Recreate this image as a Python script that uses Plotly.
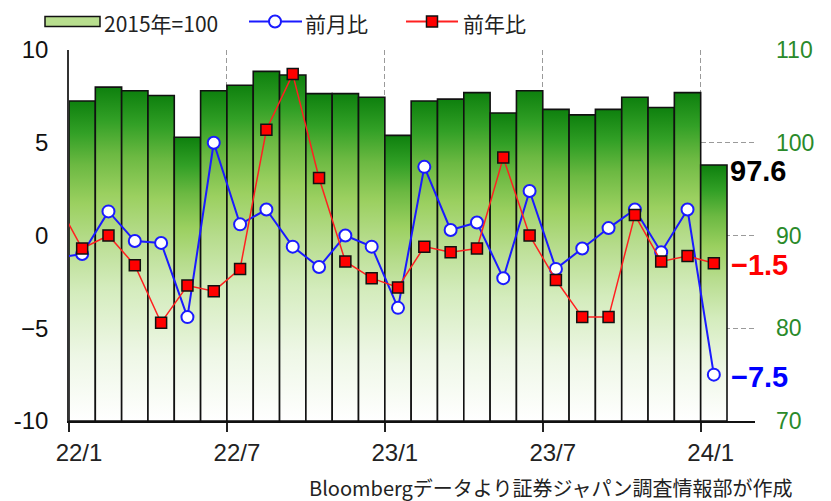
import plotly.graph_objects as go

# ---------------- data ----------------
months = ["21/12", "22/1", "22/2", "22/3", "22/4", "22/5", "22/6", "22/7", "22/8",
          "22/9", "22/10", "22/11", "22/12", "23/1", "23/2", "23/3", "23/4", "23/5",
          "23/6", "23/7", "23/8", "23/9", "23/10", "23/11", "23/12", "24/1"]
index_2015 = [None, 104.5, 106.0, 105.6, 105.1, 100.6, 105.6, 106.2, 107.7, 107.3,
              105.3, 105.3, 104.9, 100.8, 104.5, 104.7, 105.4, 103.2, 105.6, 103.6,
              103.0, 103.6, 104.9, 103.8, 105.4, 97.6]
mom = [-1.2, -1.0, 1.3, -0.3, -0.4, -4.4, 5.0, 0.6, 1.4, -0.6, -1.7, 0.0, -0.6,
       -3.9, 3.7, 0.3, 0.7, -2.3, 2.4, -1.8, -0.7, 0.4, 1.4, -0.9, 1.4, -7.5]
yoy = [1.9, -0.7, 0.0, -1.6, -4.7, -2.7, -3.0, -1.8, 5.7, 8.7, 3.1, -1.4, -2.3,
       -2.8, -0.6, -0.9, -0.7, 4.2, 0.0, -2.4, -4.4, -4.4, 1.1, -1.4, -1.1, -1.5]
tick_labels = ["22/1", "22/7", "23/1", "23/7", "24/1"]
pct_ticks = [-10, -5, 0, 5, 10]
pct_ticktext = ["-10", "\u22125", "0", "5", "10"]
idx_ticks = [70, 80, 90, 100, 110]
source_text = "Bloombergデータより証券ジャパン調査情報部が作成"

# ---------------- style ----------------
IDX_MIN, IDX_MAX = 70, 110
GREEN_SCALE = [[0.0, "#ffffff"], [0.2, "#eef7e6"], [0.4, "#d4ecbd"], [0.56, "#b6dc8c"],
               [0.68, "#9bd060"], [0.8, "#6cb942"], [0.9, "#32a026"], [1.0, "#0e800e"]]
OFF = 8                      # page body margin offset
W, H = 831 - OFF, 501 - OFF  # figure size so that the page fits the window
L, R, T, B = 69 - OFF, 755 - OFF, 50 - OFF, 421 - OFF  # plot area in figure px


def px2x(px):  # screen px -> paper x
    return (px - OFF - L) / (R - L)


def py2y(py):  # screen px -> paper y
    return (B - (py - OFF)) / (B - T)


pos = [k - 0.5 for k in range(len(months))]  # bar centres (21/12 at -0.5)

fig = go.Figure()

# bars as gradient-filled polygons on the index axis
for k, v in enumerate(index_2015):
    if v is None:
        continue
    x0, x1 = pos[k] - 0.5, pos[k] + 0.5
    fig.add_trace(go.Scatter(
        x=[x0, x0, x1, x1, x0], y=[IDX_MIN, v, v, IDX_MIN, IDX_MIN],
        mode="lines", fill="toself",
        fillgradient=dict(type="vertical", start=IDX_MIN, stop=v, colorscale=GREEN_SCALE),
        line=dict(color="#111111", width=1.6),
        yaxis="y", hoverinfo="skip", name="2015年=100"))

fig.add_trace(go.Scatter(
    x=pos, y=mom, mode="lines+markers", yaxis="y2", name="前月比",
    line=dict(color="#1a1aff", width=2),
    marker=dict(symbol="circle", size=12, color="white", line=dict(color="#1a1aff", width=2))))
fig.add_trace(go.Scatter(
    x=pos, y=yoy, mode="lines+markers", yaxis="y2", name="前年比",
    line=dict(color="#ff2020", width=1.5),
    marker=dict(symbol="square", size=11, color="#ff0000", line=dict(color="#111111", width=1.5))))

tickvals = [pos[months.index(t)] - 0.5 for t in tick_labels]
bar_w = (727 - 69) / 25.0
x_max = (R - L) / bar_w

fig.update_layout(
    width=W, height=H, margin=dict(l=L, r=W - R, t=T, b=H - B, autoexpand=False),
    plot_bgcolor="white", paper_bgcolor="white", showlegend=False,
    font=dict(family="Liberation Sans, Arial, sans-serif", color="#222222"),
    xaxis=dict(range=[0, x_max], tickvals=tickvals, ticktext=tick_labels,
               ticks="outside", ticklen=9, tickwidth=1.5, tickcolor="#222222",
               showline=True, linecolor="#111111", linewidth=2,
               showgrid=True, gridcolor="#9a9a9a", gridwidth=1, griddash="5px,3px",
               zeroline=False, tickfont=dict(size=24), ticklabelshift=10),
    yaxis=dict(side="right", range=[IDX_MIN, IDX_MAX], tickvals=idx_ticks,
               showgrid=True, gridcolor="#9a9a9a", gridwidth=1, griddash="5px,3px",
               showline=False, zeroline=False, ticks="", ticklabelstandoff=20,
               tickfont=dict(size=23, color="#2a8a2a")),
    yaxis2=dict(overlaying="y", side="left", range=[-10, 10], tickvals=pct_ticks,
                ticktext=pct_ticktext, showgrid=False, zeroline=False,
                showline=True, linecolor="#333333", linewidth=1.5, ticks="",
                ticklabelstandoff=14, tickfont=dict(size=24, color="#111111")),
)

# value labels at the right end
last = len(months) - 1
fig.add_annotation(x=pos[last] + 0.5, y=index_2015[last], xref="x", yref="y",
                   text=f"<b>{index_2015[last]:.1f}</b>", showarrow=False, xanchor="left",
                   yanchor="middle", xshift=1, yshift=-6,
                   font=dict(size=29, color="#000000", family="Liberation Sans, Arial"))
fig.add_annotation(x=pos[last] + 0.5, y=yoy[last], xref="x", yref="y2",
                   text="<b>" + f"{yoy[last]:.1f}".replace("-", "\u2212") + "</b>",
                   showarrow=False, xanchor="left", yanchor="middle", xshift=2, yshift=-2,
                   font=dict(size=29, color="#ff0000", family="Liberation Sans, Arial"))
fig.add_annotation(x=pos[last] + 0.5, y=mom[last], xref="x", yref="y2",
                   text="<b>" + f"{mom[last]:.1f}".replace("-", "\u2212") + "</b>",
                   showarrow=False, xanchor="left", yanchor="middle", xshift=2, yshift=-2,
                   font=dict(size=29, color="#0000ff", family="Liberation Sans, Arial"))

# manual legend
CJK = "Noto Sans CJK JP"
ly = 22.5
fig.add_shape(type="rect", xref="paper", yref="paper",
              x0=px2x(45), x1=px2x(100), y0=py2y(26.5), y1=py2y(16.5),
              fillcolor="#b8de8e", line=dict(color="#111111", width=1.5))
fig.add_shape(type="line", xref="paper", yref="paper",
              x0=px2x(249), x1=px2x(302), y0=py2y(21.5), y1=py2y(21.5),
              line=dict(color="#1a1aff", width=2))
fig.add_shape(type="circle", xref="paper", yref="paper",
              x0=px2x(269), x1=px2x(281), y0=py2y(27.5), y1=py2y(15.5),
              fillcolor="white", line=dict(color="#1a1aff", width=2))
fig.add_shape(type="line", xref="paper", yref="paper",
              x0=px2x(406), x1=px2x(458), y0=py2y(21.5), y1=py2y(21.5),
              line=dict(color="#ff2020", width=2))
fig.add_shape(type="rect", xref="paper", yref="paper",
              x0=px2x(426.5), x1=px2x(437.5), y0=py2y(27), y1=py2y(16),
              fillcolor="#ff0000", line=dict(color="#111111", width=1.5))
for txt, lx in [("2015年=100", 102), ("前月比", 303), ("前年比", 461)]:
    fig.add_annotation(x=px2x(lx), y=py2y(ly), xref="paper", yref="paper", text=txt,
                       showarrow=False, xanchor="left", yanchor="middle",
                       font=dict(size=21, color="#222222", family=CJK))

fig.add_annotation(x=px2x(794), y=py2y(487), xref="paper", yref="paper", text=source_text,
                   showarrow=False, xanchor="right", yanchor="middle",
                   font=dict(size=20, color="#222222", family=CJK))

fig.write_html("out.html")
